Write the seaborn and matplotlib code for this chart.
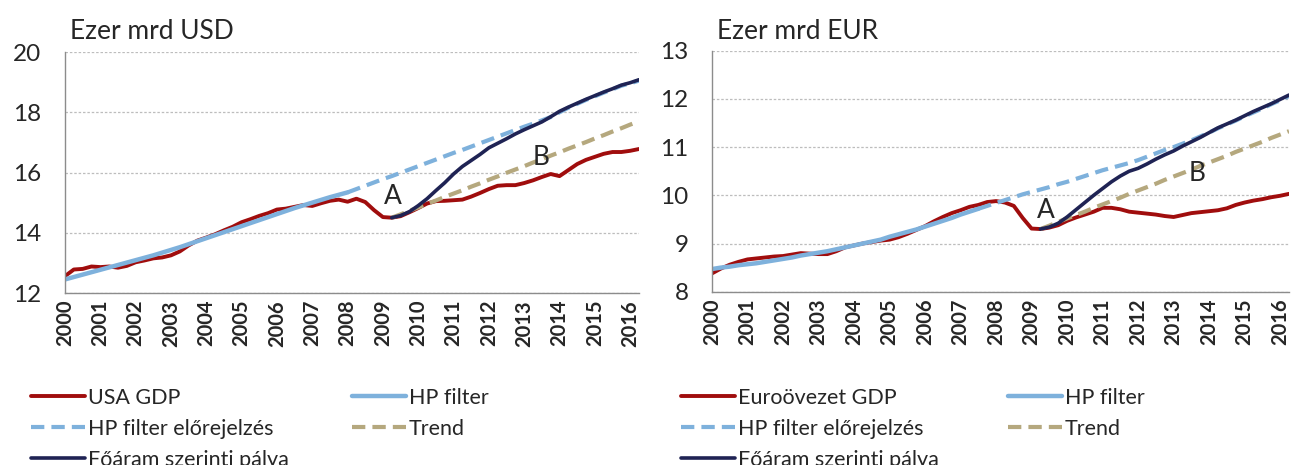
import numpy as np
import pandas as pd
import matplotlib
matplotlib.use("Agg")
import matplotlib.pyplot as plt
import seaborn as sns

# quarterly series, ezer mrd (2000Q1 - 2016Q2)
years = list(range(2000, 2017))

# USA, ezer mrd USD
usa_gdp = [12.56, 12.78, 12.80, 12.88, 12.86, 12.88, 12.84, 12.90,
           13.02, 13.08, 13.15, 13.18, 13.25, 13.38, 13.58, 13.74,
           13.84, 13.95, 14.08, 14.20, 14.35, 14.45, 14.56, 14.65,
           14.77, 14.80, 14.86, 14.92, 14.89, 14.98, 15.06, 15.10,
           15.03, 15.13, 15.02, 14.75, 14.52, 14.50, 14.55, 14.68,
           14.82, 14.97, 15.05, 15.06, 15.08, 15.10, 15.20, 15.32,
           15.45, 15.56, 15.58, 15.58, 15.65, 15.74, 15.85, 15.95,
           15.88, 16.08, 16.28, 16.42, 16.52, 16.62, 16.68, 16.68,
           16.72, 16.78]
usa_hp = [12.45, 12.53, 12.61, 12.69, 12.77, 12.85, 12.93, 13.01,
          13.09, 13.17, 13.25, 13.34, 13.43, 13.52, 13.62, 13.72,
          13.82, 13.92, 14.02, 14.12, 14.22, 14.32, 14.42, 14.52,
          14.62, 14.72, 14.82, 14.91, 15.00, 15.09, 15.18, 15.26,
          15.34]                                  # 2000Q1-2008Q1
usa_hp_fc = [15.34, 15.45, 15.56, 15.67, 15.78, 15.88, 15.99, 16.10,
             16.21, 16.32, 16.43, 16.54, 16.65, 16.75, 16.86, 16.97,
             17.08, 17.19, 17.30, 17.41, 17.52, 17.62, 17.73, 17.84,
             18.00, 18.15, 18.28, 18.41, 18.53, 18.65, 18.76, 18.88,
             18.96, 19.05]                        # 2008Q1-2016Q2
usa_main = [14.50, 14.57, 14.70, 14.90, 15.13, 15.40, 15.66, 15.95,
            16.20, 16.40, 16.60, 16.82, 16.97, 17.12, 17.28, 17.42,
            17.55, 17.68, 17.85, 18.03, 18.17, 18.30, 18.43, 18.55,
            18.67, 18.78, 18.90, 18.98, 19.08]    # 2009Q2-2016Q2
usa_trend = [14.50, 14.61, 14.73, 14.84, 14.96, 15.07, 15.19, 15.30,
             15.41, 15.53, 15.64, 15.76, 15.87, 15.99, 16.10, 16.21,
             16.33, 16.44, 16.56, 16.67, 16.79, 16.90, 17.01, 17.13,
             17.24, 17.36, 17.47, 17.59, 17.70]   # 2009Q2-2016Q2

# Euroövezet, ezer mrd EUR
ez_gdp = [8.38, 8.48, 8.56, 8.62, 8.67, 8.69, 8.71, 8.73,
          8.74, 8.77, 8.80, 8.79, 8.78, 8.78, 8.84, 8.92,
          8.96, 9.00, 9.03, 9.06, 9.08, 9.13, 9.20, 9.28,
          9.36, 9.46, 9.55, 9.63, 9.69, 9.76, 9.80, 9.86,
          9.88, 9.85, 9.78, 9.53, 9.31, 9.30, 9.33, 9.38,
          9.47, 9.54, 9.60, 9.66, 9.74, 9.74, 9.71, 9.66,
          9.64, 9.62, 9.60, 9.57, 9.55, 9.59, 9.63, 9.65,
          9.67, 9.69, 9.73, 9.80, 9.85, 9.89, 9.92, 9.96,
          9.99, 10.03]
ez_hp = [8.47, 8.50, 8.52, 8.55, 8.57, 8.59, 8.62, 8.65,
         8.68, 8.71, 8.75, 8.78, 8.81, 8.84, 8.88, 8.92,
         8.96, 9.00, 9.04, 9.08, 9.14, 9.19, 9.24, 9.29,
         9.35, 9.41, 9.47, 9.53, 9.60, 9.66, 9.72]   # 2000Q1-2007Q3
ez_hp_fc = [9.72, 9.78, 9.84, 9.90, 9.96, 10.02, 10.07, 10.12,
            10.17, 10.23, 10.28, 10.34, 10.40, 10.46, 10.52, 10.57,
            10.62, 10.67, 10.73, 10.80, 10.87, 10.94, 11.00, 11.07,
            11.14, 11.22, 11.30, 11.39, 11.47, 11.55, 11.64, 11.72,
            11.80, 11.89, 11.97, 12.06]             # 2007Q3-2016Q2
ez_main = [9.30, 9.34, 9.42, 9.55, 9.70, 9.85, 10.00, 10.14,
           10.28, 10.40, 10.50, 10.56, 10.65, 10.75, 10.84, 10.92,
           11.02, 11.11, 11.20, 11.30, 11.40, 11.48, 11.56, 11.65,
           11.74, 11.82, 11.90, 11.99, 12.08]       # 2009Q2-2016Q2
ez_trend = [9.30, 9.37, 9.45, 9.52, 9.59, 9.66, 9.74, 9.81,
            9.88, 9.95, 10.03, 10.10, 10.17, 10.24, 10.32, 10.39,
            10.46, 10.53, 10.61, 10.68, 10.75, 10.82, 10.90, 10.97,
            11.04, 11.11, 11.19, 11.26, 11.33]      # 2009Q2-2016Q2

RED = "#A00D0D"
BLUE = "#7EB1DC"
TAN = "#B5A87E"
NAVY = "#1F2354"
DASH = (0, (3.2, 1.7))

sns.set_style("white")
plt.rcParams["font.family"] = ["Lato", "DejaVu Sans"]


def quarterly(values, start):
    idx = pd.period_range(start, periods=len(values), freq="Q")
    return pd.DataFrame({"t": idx.year + (idx.quarter - 1) / 4, "v": values})


def panel(ax, series, ylim, yticks):
    for values, start, color, lw, ls, label in series:
        sns.lineplot(data=quarterly(values, start), x="t", y="v", ax=ax,
                     color=color, linewidth=lw, linestyle=ls, label=label,
                     legend=False)
    ax.set_xlim(2000, 2016.25)
    ax.set_ylim(*ylim)
    ax.set_yticks(yticks)
    ax.set_xticks(years)
    ax.set_xticklabels([str(y) for y in years], rotation=90, fontsize=14.5,
                       fontweight="bold")
    ax.set_yticklabels([str(y) for y in yticks], fontsize=17.5)
    ax.set_xlabel("")
    ax.set_ylabel("")
    ax.yaxis.grid(True, color="#BDBDBD", linestyle=(0, (2, 1.5)), linewidth=0.9)
    ax.xaxis.grid(False)
    for side in ["top", "right"]:
        ax.spines[side].set_visible(False)
    for side in ["left", "bottom"]:
        ax.spines[side].set_color("#8C8C8C")
        ax.spines[side].set_linewidth(1.0)
    ax.tick_params(axis="x", length=4, width=1, color="#8C8C8C", pad=1)
    ax.tick_params(axis="y", length=5, width=1, color="#8C8C8C", pad=12)
    ax.set_axisbelow(True)


fig = plt.figure(figsize=(12.91, 4.65), dpi=100)
W, H = 1291, 465

ax1 = fig.add_axes([65 / W, 1 - 293 / H, 574 / W, 241 / H])
ax2 = fig.add_axes([712 / W, 1 - 291.7 / H, 577 / W, 241 / H])

panel(ax1, [
    (usa_gdp, "2000Q1", RED, 2.8, "-", "USA GDP"),
    (usa_hp, "2000Q1", BLUE, 3.2, "-", "HP filter"),
    (usa_hp_fc, "2008Q1", BLUE, 3.0, DASH, "HP filter előrejelzés"),
    (usa_trend, "2009Q2", TAN, 3.0, DASH, "Trend"),
    (usa_main, "2009Q2", NAVY, 2.6, "-", "Főáram szerinti pálya"),
], (12, 20), [12, 14, 16, 18, 20])

panel(ax2, [
    (ez_gdp, "2000Q1", RED, 2.8, "-", "Euroövezet GDP"),
    (ez_hp, "2000Q1", BLUE, 3.2, "-", "HP filter"),
    (ez_hp_fc, "2007Q3", BLUE, 3.0, DASH, "HP filter előrejelzés"),
    (ez_trend, "2009Q2", TAN, 3.0, DASH, "Trend"),
    (ez_main, "2009Q2", NAVY, 2.6, "-", "Főáram szerinti pálya"),
], (8, 13), [8, 9, 10, 11, 12, 13])

# labels on the charts
ax1.text(2009.27, 15.19, "A", fontsize=19, ha="center", va="center")
ax1.text(2013.47, 16.5, "B", fontsize=19, ha="center", va="center")
ax2.text(2009.41, 9.69, "A", fontsize=19, ha="center", va="center")
ax2.text(2013.65, 10.45, "B", fontsize=19, ha="center", va="center")

fig.text(70 / W, 1 - 39 / H, "Ezer mrd USD", fontsize=19, va="baseline")
fig.text(717 / W, 1 - 39 / H, "Ezer mrd EUR", fontsize=19, va="baseline")

# legends below the panels, two columns each
leg_kw = dict(loc="upper left", frameon=False, fontsize=15.5, handlelength=2.5,
              handletextpad=0.15, labelspacing=0.5, borderpad=0, borderaxespad=0)
for ax, x1, x2 in [(ax1, 31, 352), (ax2, 681, 1008)]:
    lines = ax.get_lines()
    col1 = [lines[0], lines[2], lines[4]]
    col2 = [lines[1], lines[3]]
    fig.legend(handles=col1, labels=[l.get_label() for l in col1],
               bbox_to_anchor=(x1 / W, 1 - 388 / H), **leg_kw)
    fig.legend(handles=col2, labels=[l.get_label() for l in col2],
               bbox_to_anchor=(x2 / W, 1 - 388 / H), **leg_kw)

fig.savefig("out.png", dpi=100)
